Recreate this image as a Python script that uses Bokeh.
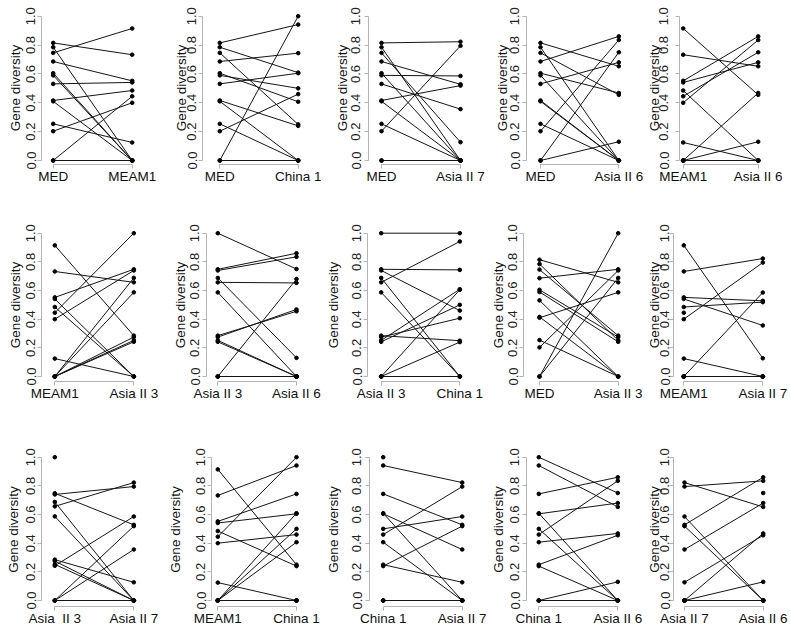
import math
from bokeh.plotting import figure
from bokeh.layouts import row, column
from bokeh.models import FixedTicker, Range1d, ColumnDataSource
from bokeh.embed import file_html
from bokeh.resources import INLINE

nan = float("nan")

# ---- data: gene diversity per locus (13 loci, same order in every list) ----
MED       = [0.815, 0.785, 0.746, 0.686, 0.605, 0.590, 0.531, 0.416, 0.410, 0.254, 0.203, 0.0, 0.0]
MEAM1     = [0.733, 0.0, 0.915, 0.552, 0.0, 0.0, 0.541, 0.485, 0.0, 0.125, 0.400, 0.445, 0.0]
CHINA_1   = [0.942, 0.609, 0.250, 0.744, 0.407, 0.500, 0.605, 0.240, 0.0, 0.0, 0.460, 1.0, 0.0]
ASIA_II_7 = [0.823, 0.0, 0.127, 0.528, 0.0, 0.586, 0.356, 0.519, 0.0, 0.0, 0.795, nan, 0.0]
ASIA_II_6 = [0.653, 0.0, 0.455, 0.860, 0.468, 0.0, 0.680, 0.0, 0.0, 0.0, 0.835, 0.750, 0.130]
ASIA_II_3 = [0.657, 0.252, 0.285, 0.748, 0.275, 0.242, 0.0, 0.0, 0.587, 0.0, 0.740, 1.0, 0.688]

POPS = {"MED": MED, "MEAM1": MEAM1, "China 1": CHINA_1,
        "Asia II 7": ASIA_II_7, "Asia II 6": ASIA_II_6, "Asia II 3": ASIA_II_3}

# panel pairs (left population, right population, left label, right label), row by row
PANELS = [
    [("MED", "MEAM1", "MED", "MEAM1"), ("MED", "China 1", "MED", "China 1"),
     ("MED", "Asia II 7", "MED", "Asia II 7"), ("MED", "Asia II 6", "MED", "Asia II 6"),
     ("MEAM1", "Asia II 6", "MEAM1", "Asia II 6")],
    [("MEAM1", "Asia II 3", "MEAM1", "Asia II 3"), ("Asia II 3", "Asia II 6", "Asia II 3", "Asia II 6"),
     ("Asia II 3", "China 1", "Asia II 3", "China 1"), ("MED", "Asia II 3", "MED", "Asia II 3"),
     ("MEAM1", "Asia II 7", "MEAM1", "Asia II 7")],
    [("Asia II 3", "Asia II 7", "Asia\u00a0 II 3", "Asia II 7"), ("MEAM1", "China 1", "MEAM1", "China 1"),
     ("China 1", "Asia II 7", "China 1", "Asia II 7"), ("China 1", "Asia II 6", "China 1", "Asia II 6"),
     ("Asia II 7", "Asia II 6", "Asia II 7", "Asia II 6")],
]
Y_TICKS = [0.0, 0.2, 0.4, 0.6, 0.8, 1.0]
Y_LABEL = "Gene diversity"

# ---- layout (page pixels) ----
COLS = [0, 162, 321, 486, 643, 789]
ROWS = [0, 200, 420, 628]
# per row: y of value 1.0, y of value 0.0, x-axis line y, frame top
ROWY = [(15.7, 160.0, 164.5, 11.5), (232.7, 376.0, 381.0, 228.5), (456.7, 600.0, 605.5, 452.5)]
# per panel: y-axis x, x of left points, x of right points, axis-label centre x, tick-label standoff
GEOM = [
    [(41, 52.7, 131.7, 11.7, 2), (202, 219.3, 297.7, 177.0, 2), (368, 381.0, 460.0, 338.3, 4),
     (526, 540.0, 618.3, 498.0, 3), (679, 682.7, 757.7, 650.5, 7)],
    [(41, 54.3, 133.3, 11.0, 2), (206, 217.3, 296.0, 176.0, 3), (367, 380.7, 459.3, 329.0, 2),
     (523, 539.0, 617.7, 494.0, 2), (673, 683.3, 762.3, 650.5, 0)],
    [(41, 54.3, 133.3, 9.5, 2), (211, 217.3, 296.0, 171.5, 2), (369, 382.7, 461.7, 329.0, 4),
     (526, 538.3, 617.3, 494.0, 3), (673, 684.0, 762.7, 650.5, 0)],
]
FONT = "Liberation Sans"
AXIS_GREY = "#b4b4b4"
TICK_OUT = 4
TICKLAB_BOX = 14.5  # approx rotated tick-label extent
LAB_HALF = 7.8


def make_panel(r, c):
    left_pop, right_pop, left_lab, right_lab = PANELS[r][c]
    ax, x1, x2, lab, ts = GEOM[r][c]
    y1, y0, axis_y, ftop = ROWY[r]
    fl, fr = COLS[c], COLS[c + 1]
    ftp, fbt = ROWS[r], ROWS[r + 1]
    W, H = fr - fl, fbt - ftp
    mbl = int(round(ax - fl))
    mbr = 2
    mbt = int(math.floor(ftop - ftp))
    mbb = int(round(fbt - axis_y))
    frame_l = fl + mbl
    frame_r = fr - mbr
    frame_t = ftp + mbt
    frame_b = fbt - mbb
    k = x2 - x1
    xs = 1 - (x1 - frame_l) / k
    xe = 1 + (frame_r - x1) / k
    ky = y0 - y1
    ys = -(frame_b - y0) / ky
    ye = max((y0 - frame_t) / ky, 1.002)

    p = figure(width=W, height=H, x_range=Range1d(xs, xe), y_range=Range1d(ys, ye),
               output_backend="svg", toolbar_location=None,
               min_border_left=mbl, min_border_right=mbr,
               min_border_top=mbt, min_border_bottom=mbb,
               outline_line_color=None)
    p.grid.visible = False

    A = POPS[left_pop]
    B = POPS[right_pop]
    seg = dict(x0=[], y0=[], x1=[], y1=[])
    px, py = [], []
    for a, b in zip(A, B):
        if not math.isnan(a):
            px.append(1); py.append(a)
        if not math.isnan(b):
            px.append(2); py.append(b)
        if not (math.isnan(a) or math.isnan(b)):
            seg["x0"].append(1); seg["y0"].append(a)
            seg["x1"].append(2); seg["y1"].append(b)
    p.segment(x0="x0", y0="y0", x1="x1", y1="y1", source=ColumnDataSource(seg),
              line_color="#151515", line_width=1.0)
    p.scatter(px, py, size=3.6, color="black")

    # x axis
    xa = p.xaxis[0]
    xa.ticker = FixedTicker(ticks=[1, 2])
    xa.major_label_overrides = {1: left_lab, 2: right_lab}
    xa.bounds = (1, 2)
    xa.axis_line_color = AXIS_GREY
    xa.major_tick_line_color = AXIS_GREY
    xa.minor_tick_line_color = None
    xa.major_tick_in = 0
    xa.major_tick_out = TICK_OUT
    xa.major_label_standoff = 0
    xa.major_label_text_font = FONT
    xa.major_label_text_font_size = "13.5px"
    xa.major_label_text_color = "#111111"

    # y axis
    ya = p.yaxis[0]
    ya.ticker = FixedTicker(ticks=Y_TICKS)
    ya.major_label_overrides = {t: "%.1f" % t for t in Y_TICKS}
    ya.bounds = (0, 1)
    ya.axis_line_color = AXIS_GREY
    ya.major_tick_line_color = AXIS_GREY
    ya.minor_tick_line_color = None
    ya.major_tick_in = 0
    ya.major_tick_out = TICK_OUT
    ya.major_label_standoff = ts
    ya.major_label_orientation = "vertical"
    ya.major_label_text_font = FONT
    ya.major_label_text_font_size = "13px"
    ya.major_label_text_color = "#222222"
    ya.axis_label = Y_LABEL
    ya.axis_label_text_font = FONT
    ya.axis_label_text_font_size = "13.5px"
    ya.axis_label_text_font_style = "normal"
    ya.axis_label_text_color = "#111111"
    E = TICK_OUT + ts + TICKLAB_BOX
    lab = max(lab, fl + 7.5)
    als = math.floor(ax - E - (lab + LAB_HALF))
    ya.axis_label_standoff = als
    return p


rows = []
for r in range(3):
    rows.append(row(*[make_panel(r, c) for c in range(5)]))
layout = column(*rows)

open("out.html", "w").write(file_html(layout, INLINE))
